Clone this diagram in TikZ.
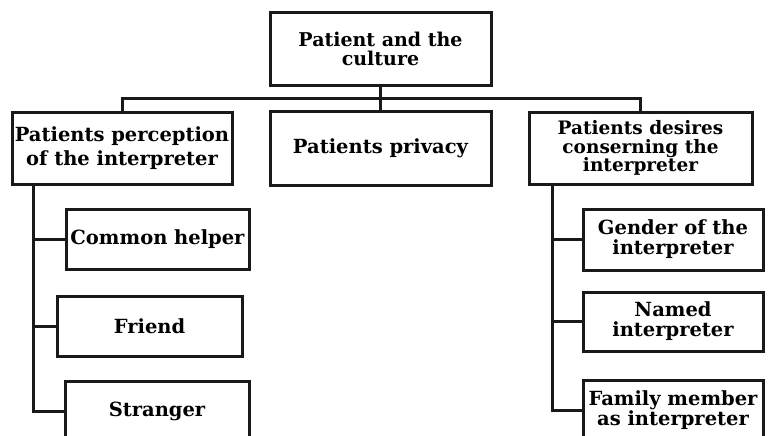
\documentclass[tikz,border=0pt]{standalone}
\usepackage{fontspec}
\setmainfont{DejaVu Serif}
\begin{document}
\begin{tikzpicture}[x=1pt,y=-1pt,
  box/.style={draw=black!90, line width=3pt, fill=white, inner sep=0pt, outer sep=0pt,
    align=center, font=\bfseries\fontsize{19.5}{20}\selectfont},
  link/.style={draw=black!90, line width=3pt}]
\useasboundingbox[fill=white] (0,0) rectangle (768,436);
% top level
\node[box, minimum width=221, minimum height=72, font=\bfseries\fontsize{19}{18.5}\selectfont] (T) at (380.5,49) {Patient and the\\culture};
\node[box, minimum width=220, minimum height=72, font=\bfseries\fontsize{19.5}{24}\selectfont] (L1) at (122,148) {Patients perception\\of the interpreter};
\node[box, minimum width=221, minimum height=74] (M) at (380.5,148) {Patients privacy};
\node[box, minimum width=223, minimum height=72, font=\bfseries\fontsize{18.5}{18.5}\selectfont] (R) at (640.5,148) {Patients desires\\conserning the\\interpreter};
% left children
\node[box, minimum width=183, minimum height=60] (CH) at (157.5,239) {Common helper};
\node[box, minimum width=185, minimum height=60] (FR) at (149.5,326) {Friend};
\node[box, minimum width=184, minimum height=60] (ST) at (157,411) {Stranger};
% right children
\node[box, minimum width=180, minimum height=61] (GE) at (673,239.5) {Gender of the\\interpreter};
\node[box, minimum width=180, minimum height=59] (NA) at (673,321.5) {Named\\interpreter};
\node[box, minimum width=180, minimum height=61] (FA) at (673,410.5) {Family member\\as interpreter};
% bus
\coordinate (bus) at (380.5,98);
\coordinate (lt) at (33,184);
\coordinate (rt) at (552,184);
\draw[link] (T.south) -- (M.north);
\draw[link] (L1.north) |- (bus) -| (R.north);
% left trunk
\draw[link] (L1.south -| lt) |- (ST.west);
\draw[link] (lt |- CH.west) -- (CH.west);
\draw[link] (lt |- FR.west) -- (FR.west);
% right trunk
\draw[link] (R.south -| rt) |- (FA.west);
\draw[link] (rt |- GE.west) -- (GE.west);
\draw[link] (rt |- NA.west) -- (NA.west);
\end{tikzpicture}
\end{document}
